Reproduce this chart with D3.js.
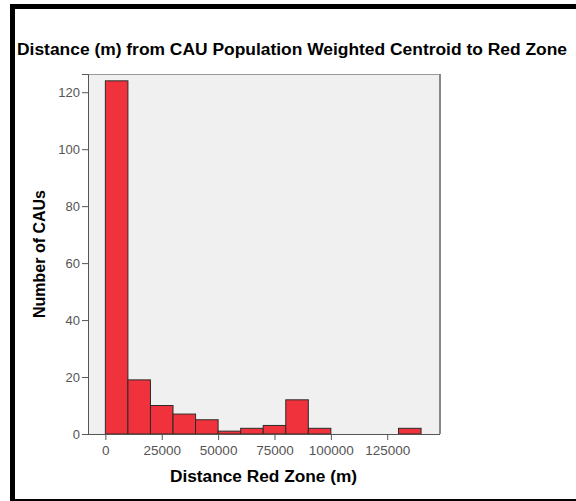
<!DOCTYPE html>
<html><head><meta charset="utf-8">
<script src="https://cdn.jsdelivr.net/npm/d3@7"></script>
<style>
html,body{margin:0;padding:0;background:#fff;}
svg{display:block;}
text{font-family:Arial,"Liberation Sans",sans-serif;}
</style></head>
<body><svg id="chart" width="576" height="501"></svg>
<script>
const title = "Distance (m) from CAU Population Weighted Centroid to Red Zone";
const xTitle = "Distance Red Zone (m)";
const yTitle = "Number of CAUs";
const binStarts = [0,10000,20000,30000,40000,50000,60000,70000,80000,90000,100000,110000,120000,130000];
const binWidth = 10000;
const counts = [124,19,10,7,5,1,2,3,12,2,0,0,0,2];
const xTicks = [0,25000,50000,75000,100000,125000];
const yTicks = [0,20,40,60,80,100,120];

const svg = d3.select("#chart");
// outer frame
svg.append("rect").attr("x",10).attr("y",4).attr("width",5).attr("height",497).attr("fill","#000");
svg.append("rect").attr("x",10).attr("y",4).attr("width",566).attr("height",5).attr("fill","#000");
svg.append("rect").attr("x",10).attr("y",499).attr("width",566).attr("height",2).attr("fill","#000");

const L=88, R=440, T=74, B=434;
const x = d3.scaleLinear().domain([-7700,148400]).range([L,R]);
const y = d3.scaleLinear().domain([0,126.4]).range([B,T]);

svg.append("rect").attr("x",L).attr("y",T).attr("width",R-L).attr("height",B-T).attr("fill","#f0f0f0");

const bars = binStarts.map((s,i)=>({s, c:counts[i]})).filter(d=>d.c>0);
svg.append("g").selectAll("rect").data(bars).join("rect")
  .attr("x",d=>x(d.s)).attr("width",d=>x(d.s+binWidth)-x(d.s))
  .attr("y",d=>y(d.c)).attr("height",d=>y(0)-y(d.c))
  .attr("fill","#f0323c").attr("stroke","#2b2b2b").attr("stroke-width",1);

// plot frame
svg.append("line").attr("x1",L).attr("x2",R).attr("y1",T+0.5).attr("y2",T+0.5).attr("stroke","#999");
svg.append("line").attr("x1",R).attr("x2",R).attr("y1",T).attr("y2",B).attr("stroke","#888").attr("stroke-width",2);

const yAxis = d3.axisLeft(y).tickValues(yTicks).tickSize(6).tickPadding(2).tickFormat(d3.format("d"));
const gy = svg.append("g").attr("transform",`translate(${L},0)`).call(yAxis);
gy.select(".domain").attr("stroke","#555");
gy.selectAll(".tick line").attr("stroke","#555");
gy.selectAll(".tick text").attr("fill","#555").style("font-size","13px");

const xAxis = d3.axisBottom(x).tickValues(xTicks).tickSize(6).tickPadding(5).tickFormat(d3.format("d"));
const gx = svg.append("g").attr("transform",`translate(0,${B})`).call(xAxis);
gx.select(".domain").attr("stroke","#555").attr("d",`M${L-6},0.5H${R}`);
gx.selectAll(".tick line").attr("stroke","#555");
gx.selectAll(".tick text").attr("fill","#555").style("font-size","13.5px");

svg.append("text").attr("x",17).attr("y",55).attr("font-weight","bold").style("font-size","16px")
  .attr("textLength",550).attr("lengthAdjust","spacingAndGlyphs").text(title);
svg.append("text").attr("x",170).attr("y",482).attr("font-weight","bold").style("font-size","16px")
  .attr("textLength",187).attr("lengthAdjust","spacingAndGlyphs").text(xTitle);
svg.append("text").attr("transform","translate(45,254) rotate(-90)").attr("text-anchor","middle").attr("font-weight","bold").style("font-size","16px").text(yTitle);
</script></body></html>
